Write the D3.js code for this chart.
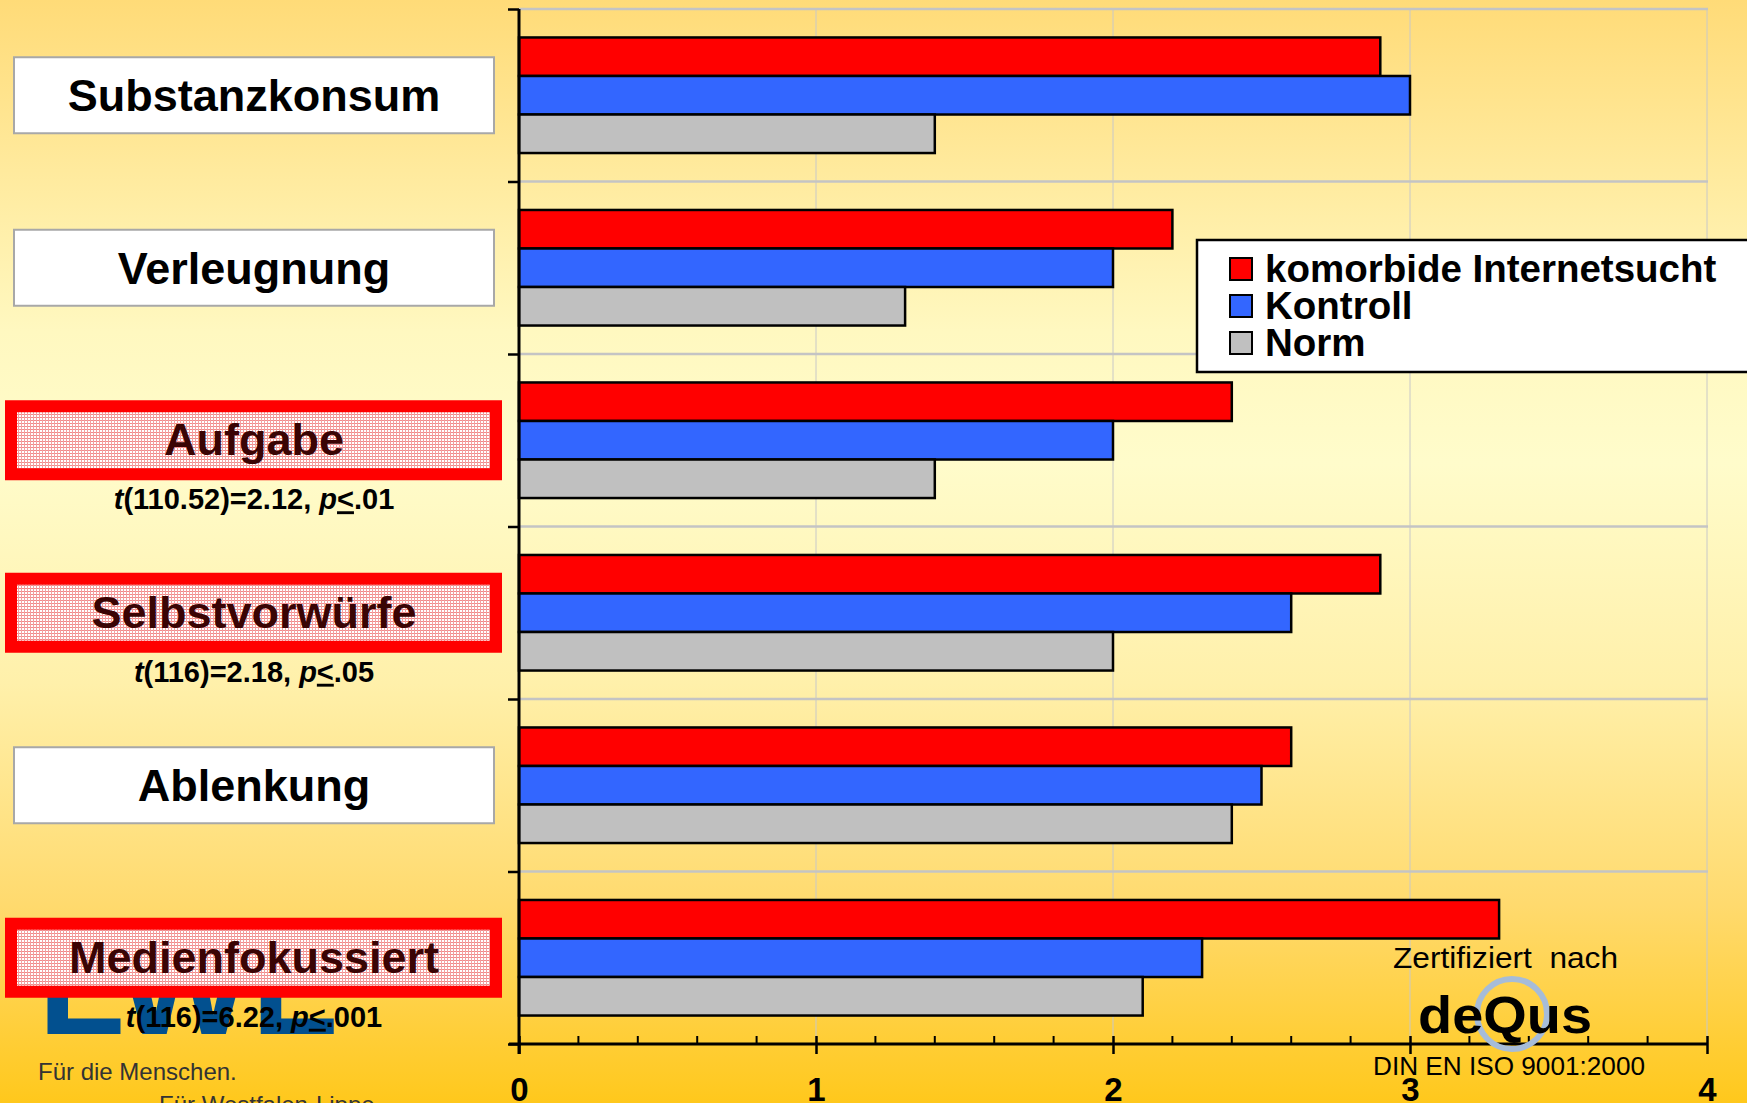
<!DOCTYPE html>
<html>
<head>
<meta charset="utf-8">
<script src="https://cdn.jsdelivr.net/npm/d3@7"></script>
<style>
  html, body { margin: 0; padding: 0; overflow: hidden; }
  svg, svg text { font-family: "Liberation Sans", Arimo, Arial, Helvetica, sans-serif; }
</style>
</head>
<body>
<div id="chart"></div>
<script>
const categories = ["Substanzkonsum", "Verleugnung", "Aufgabe", "Selbstvorwürfe", "Ablenkung", "Medienfokussiert"];
const seriesNames = ["komorbide Internetsucht", "Kontroll", "Norm"];
const komorbide = [2.9, 2.2, 2.4, 2.9, 2.6, 3.3];
const kontroll = [3.0, 2.0, 2.0, 2.6, 2.5, 2.3];
const norm = [1.4, 1.3, 1.4, 2.0, 2.4, 2.1];
const xTicks = [0, 1, 2, 3, 4];
const significant = [false, false, true, true, false, true];
const statDf = [null, null, "110.52", "116", null, "116"];
const statT = [null, null, "2.12", "2.18", null, "6.22"];
const statP = [null, null, ".01", ".05", null, ".001"];

const FONT = "'Liberation Sans', Arimo, Arial, Helvetica, sans-serif";

const drawChart = () => {
  const W = 1747, H = 1103;
  const plot = { left: 519, right: 1707, top: 9, bottom: 1044 };
  const colors = ["#ff0000", "#3366ff", "#c0c0c0"];
  const values = [komorbide, kontroll, norm];

  const svg = d3.select("#chart").append("svg")
    .attr("width", W).attr("height", H)
    .attr("font-family", FONT);

  const defs = svg.append("defs");
  const grad = defs.append("linearGradient").attr("id", "bg")
    .attr("x1", 0).attr("y1", 0).attr("x2", 0).attr("y2", 1);
  [[0, "#ffdb78"], [0.3, "#fff8c0"], [0.42, "#fffccb"], [0.62, "#fff0aa"],
   [0.82, "#ffda6e"], [1, "#ffc81c"]].forEach(([o, c]) =>
    grad.append("stop").attr("offset", o).attr("stop-color", c));

  const pat = defs.append("pattern").attr("id", "hatch")
    .attr("width", 3).attr("height", 3).attr("patternUnits", "userSpaceOnUse");
  pat.append("rect").attr("width", 3).attr("height", 3).attr("fill", "#ffffff");
  pat.append("rect").attr("width", 3).attr("height", 1).attr("fill", "#f08a8a");
  pat.append("rect").attr("width", 1).attr("height", 3).attr("fill", "#f4a0a0");

  svg.append("rect").attr("width", W).attr("height", H).attr("fill", "url(#bg)");

  const x = d3.scaleLinear().domain([0, 4]).range([plot.left, plot.right]);
  const y = d3.scaleBand().domain(categories)
    .range([plot.top, plot.bottom]).paddingInner(0.33).paddingOuter(0.165);
  const ySub = d3.scaleBand().domain(seriesNames).range([0, y.bandwidth()]);
  const yIdx = d3.scaleLinear().domain([0, categories.length]).range([plot.top, plot.bottom]);

  // grid
  const grid = svg.append("g");
  grid.selectAll(".vg").data(xTicks.slice(1)).enter().append("line")
    .attr("x1", d => x(d)).attr("x2", d => x(d))
    .attr("y1", plot.top).attr("y2", plot.bottom)
    .attr("stroke", "#c8c8c8").attr("stroke-width", 1);
  grid.selectAll(".hg").data(d3.range(categories.length)).enter().append("line")
    .attr("x1", plot.left).attr("x2", plot.right + 1)
    .attr("y1", d => yIdx(d)).attr("y2", d => yIdx(d))
    .attr("stroke", "#c4c4c4").attr("stroke-width", 2.5);

  // bars
  seriesNames.forEach((s, si) => {
    svg.append("g").selectAll("rect").data(categories).enter().append("rect")
      .attr("x", plot.left)
      .attr("y", c => y(c) + ySub(s))
      .attr("width", (c, i) => x(values[si][i]) - x(0))
      .attr("height", ySub.bandwidth())
      .attr("fill", colors[si])
      .attr("stroke", "#000").attr("stroke-width", 2.5);
  });

  // y axis
  const yAxis = svg.append("g").attr("transform", `translate(${plot.left},0)`)
    .call(d3.axisLeft(yIdx).tickValues(d3.range(categories.length + 1))
      .tickSize(11).tickSizeOuter(0).tickFormat(""));
  yAxis.select(".domain").remove();
  yAxis.selectAll("line").attr("stroke", "#000").attr("stroke-width", 2.5);
  svg.append("line").attr("x1", plot.left).attr("x2", plot.left)
    .attr("y1", plot.top).attr("y2", plot.bottom + 10)
    .attr("stroke", "#000").attr("stroke-width", 3);

  // x axis
  const xAxis = svg.append("g").attr("transform", `translate(0,${plot.bottom})`)
    .call(d3.axisBottom(x).tickValues(xTicks).tickFormat(d3.format("d"))
      .tickSize(10).tickSizeOuter(0));
  xAxis.select(".domain").remove();
  xAxis.selectAll(".tick line").attr("y1", -8).attr("stroke", "#000").attr("stroke-width", 2.5);
  xAxis.selectAll(".tick text")
    .attr("y", 57).attr("dy", null)
    .attr("font-family", FONT)
    .attr("font-size", 33).attr("font-weight", "bold").attr("fill", "#000");
  const minor = d3.range(0, 4.0001, 0.2).filter(v => Math.abs(v - Math.round(v)) > 1e-6);
  svg.append("g").selectAll("line").data(minor).enter().append("line")
    .attr("x1", d => x(d)).attr("x2", d => x(d))
    .attr("y1", plot.bottom - 8).attr("y2", plot.bottom)
    .attr("stroke", "#000").attr("stroke-width", 2);
  svg.append("line").attr("x1", plot.left - 10).attr("x2", plot.right)
    .attr("y1", plot.bottom).attr("y2", plot.bottom)
    .attr("stroke", "#000").attr("stroke-width", 3);

  // legend
  const lg = svg.append("g").attr("transform", "translate(1197,240)");
  lg.append("rect").attr("width", 570).attr("height", 132)
    .attr("fill", "#fff").attr("stroke", "#000").attr("stroke-width", 2.5);
  seriesNames.forEach((s, i) => {
    const cy = 29 + i * 37;
    lg.append("rect").attr("x", 33).attr("y", cy - 11).attr("width", 22).attr("height", 22)
      .attr("fill", colors[i]).attr("stroke", "#000").attr("stroke-width", 2);
    lg.append("text").attr("x", 68).attr("y", cy + 13)
      .attr("font-size", 38.5).attr("font-weight", "bold").text(s);
  });

  // LWL logo (partially hidden)
  svg.append("text").attr("x", 38).attr("y", 1034)
    .attr("font-size", 140).attr("font-weight", "bold").attr("fill", "#02508f")
    .attr("textLength", 300).attr("lengthAdjust", "spacingAndGlyphs").text("LWL");
  svg.append("text").attr("x", 38).attr("y", 1080)
    .attr("font-size", 24).attr("fill", "#333").text("Für die Menschen.");
  svg.append("text").attr("x", 159).attr("y", 1113)
    .attr("font-size", 24).attr("fill", "#333").text("Für Westfalen-Lippe.");

  // category labels
  const labels = svg.append("g");
  categories.forEach((c, i) => {
    const cy = y(c) + y.bandwidth() / 2;
    const g = labels.append("g");
    if (significant[i]) {
      g.append("rect").attr("x", 5).attr("y", cy - 40).attr("width", 497).attr("height", 80)
        .attr("fill", "#ff0000");
      g.append("rect").attr("x", 17).attr("y", cy - 28).attr("width", 473).attr("height", 56)
        .attr("fill", "url(#hatch)");
      g.append("text").attr("x", 254).attr("y", cy + 15)
        .attr("text-anchor", "middle").attr("font-size", 45).attr("font-weight", "bold")
        .attr("fill", "#3a0404").text(c);
      const st = g.append("text").attr("x", 254).attr("y", cy + 69)
        .attr("text-anchor", "middle").attr("font-size", 29).attr("font-weight", "bold")
        .attr("fill", "#000");
      st.append("tspan").attr("font-style", "italic").text("t");
      st.append("tspan").text(`(${statDf[i]})=${statT[i]}, `);
      st.append("tspan").attr("font-style", "italic").text("p");
      st.append("tspan").attr("text-decoration", "underline").text("<");
      st.append("tspan").text(statP[i]);
    } else {
      g.append("rect").attr("x", 14).attr("y", cy - 38).attr("width", 480).attr("height", 76)
        .attr("fill", "#fff").attr("stroke", "#a8a8a8").attr("stroke-width", 2);
      g.append("text").attr("x", 254).attr("y", cy + 16)
        .attr("text-anchor", "middle").attr("font-size", 45).attr("font-weight", "bold")
        .attr("fill", "#000").text(c);
    }
  });

  // certification
  svg.append("text").attr("x", 1393).attr("y", 968)
    .attr("font-size", 30).attr("fill", "#000").attr("xml:space", "preserve")
    .attr("textLength", 225).attr("lengthAdjust", "spacingAndGlyphs")
    .text("Zertifiziert  nach");
  svg.append("circle").attr("cx", 1512).attr("cy", 1014).attr("r", 35)
    .attr("fill", "none").attr("stroke", "#a6bcd8").attr("stroke-width", 6);
  svg.append("text").attr("x", 1418).attr("y", 1033)
    .attr("font-size", 52).attr("font-weight", "bold").attr("fill", "#000")
    .attr("textLength", 174).attr("lengthAdjust", "spacingAndGlyphs").text("deQus");
  svg.append("text").attr("x", 1373).attr("y", 1075)
    .attr("font-size", 26).attr("fill", "#000")
    .attr("textLength", 272).attr("lengthAdjust", "spacingAndGlyphs")
    .text("DIN EN ISO 9001:2000");
};

window.onload = drawChart;
</script>
</body>
</html>
